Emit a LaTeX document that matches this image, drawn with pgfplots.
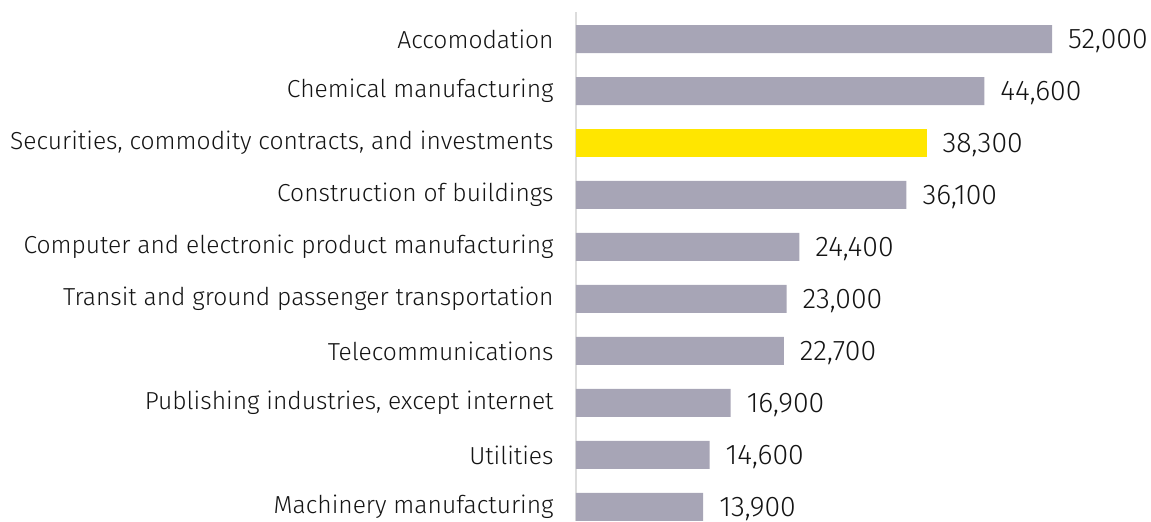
\documentclass[border=0pt]{standalone}
\usepackage{fontspec}
\setmainfont{Fira Sans}[UprightFont=*-Light]
\usepackage{pgfplots}
\pgfplotsset{compat=1.18}
\definecolor{barGray}{HTML}{A7A5B6}
\definecolor{barYellow}{HTML}{FFE600}
\definecolor{axisGray}{HTML}{DCDCDC}
\begin{document}
\begin{tikzpicture}
\path[use as bounding box] (-288pt,0) rectangle (287.5pt,260.5pt);
\begin{axis}[
    xbar,
    bar width=14pt,
    bar shift=0pt,
    scale only axis,
    width=287.5pt,
    height=254.5pt,
    xmin=0, xmax=62814,
    ymin=-0.519, ymax=9.27,
    y dir=reverse,
    axis x line=none,
    axis y line*=left,
    y axis line style={draw=axisGray, line width=1pt},
    ytick={0,...,9},
    yticklabels={Accomodation,Chemical manufacturing,{Securities, commodity contracts, and investments},Construction of buildings,Computer and electronic product manufacturing,Transit and ground passenger transportation,Telecommunications,{Publishing industries, except internet},Utilities,Machinery manufacturing},
    major tick length=0pt,
    y tick label style={font=\fontsize{12.3}{14}\selectfont, inner xsep=0pt, xshift=-11pt, text=black!92},
    nodes near coords,
    point meta=x,
    nodes near coords style={anchor=west, xshift=4.5pt, yshift=-1pt, font=\fontsize{14.2}{15}\selectfont, text=black!92,
        /pgf/number format/.cd, fixed, 1000 sep={,}, assume math mode=true},
]
\addplot[fill=barGray, draw=none] coordinates {
(52000,0) (44600,1) (36100,3) (24400,4) (23000,5) (22700,6) (16900,7) (14600,8) (13900,9)};
\addplot[fill=barYellow, draw=none] coordinates {(38300,2)};
\end{axis}
\end{tikzpicture}
\end{document}
